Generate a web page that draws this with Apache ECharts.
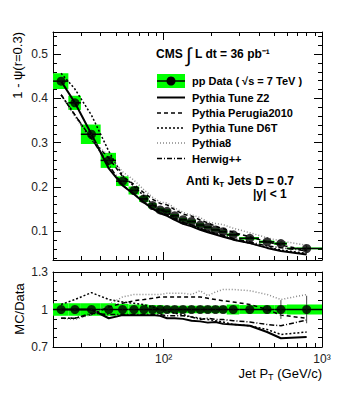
<!DOCTYPE html>
<html>
<head>
<meta charset="utf-8">
<script src="https://cdn.jsdelivr.net/npm/echarts@6/dist/echarts.min.js"></script>
<style>
  html, body { margin: 0; padding: 0; background: #fff; }
  #main { width: 349px; height: 393px; }
</style>
</head>
<body>
<div id="main"></div>
<script>
// jet pT bins (GeV/c)
var binLow  = [20, 25, 30, 40, 50, 60, 70, 80, 90, 100, 110, 125, 140, 160, 180, 200, 225, 250, 300, 400, 500, 600];
var binHigh = [25, 30, 40, 50, 60, 70, 80, 90, 100, 110, 125, 140, 160, 180, 200, 225, 250, 300, 400, 500, 600, 1000];
var ptCenter = [22.5, 27.5, 35, 45, 55, 65, 75, 85, 95, 105, 117.5, 132.5, 150, 170, 190, 212.5, 237.5, 275, 350, 450, 550, 800];

// 1 - psi(r=0.3), pp data
var dataVal = [0.439, 0.390, 0.319, 0.260, 0.213, 0.192, 0.173, 0.158, 0.148, 0.145, 0.135, 0.126, 0.122, 0.114, 0.109, 0.103, 0.099, 0.092, 0.084, 0.076, 0.072, 0.061];
// systematic half-height of green boxes (top panel)
var dataSys = [0.018, 0.016, 0.022, 0.017, 0.011, 0.009, 0.007, 0.006, 0.005, 0.005, 0.004, 0.004, 0.004, 0.004, 0.003, 0.003, 0.003, 0.003, 0.003, 0.003, 0.003, 0.002];
// ratio panel: band half-height and statistical errors
var ratioBand = [0.05, 0.05, 0.05, 0.05, 0.045, 0.04, 0.04, 0.035, 0.035, 0.03, 0.03, 0.03, 0.03, 0.03, 0.03, 0.03, 0.03, 0.04, 0.035, 0.035, 0.035, 0.04];
var ratioStat = [0.005, 0.005, 0.005, 0.005, 0.005, 0.005, 0.005, 0.005, 0.005, 0.005, 0.005, 0.005, 0.005, 0.005, 0.005, 0.005, 0.01, 0.01, 0.015, 0.03, 0.075, 0.11];

// MC / Data
var z2       = [1.0, 1.0, 1.0, 0.93, 0.955, 0.955, 0.955, 0.955, 0.95, 0.93, 0.93, 0.925, 0.91, 0.905, 0.895, 0.9, 0.885, 0.88, 0.87, 0.82, 0.77, 0.78];
var perugia  = [0.93, 0.93, 0.96, 1.02, 1.05, 1.07, 1.08, 1.09, 1.1, 1.1, 1.1, 1.1, 1.1, 1.1, 1.09, 1.08, 1.07, 1.06, 1.04, 1.0, 0.955, 0.93];
var d6t      = [1.04, 1.08, 1.135, 1.08, 1.06, 1.05, 1.04, 1.02, 1.0, 0.99, 0.97, 0.96, 0.94, 0.93, 0.92, 0.91, 0.9, 0.88, 0.87, 0.84, 0.80, 0.82];
var pythia8  = [0.93, 0.92, 0.96, 1.04, 1.1, 1.12, 1.12, 1.12, 1.12, 1.13, 1.13, 1.13, 1.12, 1.15, 1.11, 1.14, 1.16, 1.16, 1.15, 1.12, 1.08, 1.12];
var herwig   = [0.93, 0.93, 0.97, 0.96, 0.96, 0.96, 0.96, 0.96, 0.96, 0.95, 0.95, 0.95, 0.94, 0.92, 0.93, 0.92, 0.92, 0.91, 0.9, 0.88, 0.87, 0.915];

// ticks
var xMajor = [100, 1000];
var xMinor = [30, 40, 50, 60, 70, 80, 90, 200, 300, 400, 500, 600, 700, 800, 900];
var yTopMajor = [0.1, 0.2, 0.3, 0.4, 0.5];
var yTopMinor = [0.04, 0.06, 0.08, 0.12, 0.14, 0.16, 0.18, 0.22, 0.24, 0.26, 0.28, 0.32, 0.34, 0.36, 0.38, 0.42, 0.44, 0.46, 0.48, 0.52, 0.54];
var yBotMajor = [0.7, 1, 1.3];
var yBotMinor = [0.775, 0.85, 0.925, 1.075, 1.15, 1.225];

var GREEN = '#00ff00';
var FONT = 'Liberation Sans, Arial, sans-serif';

var mcSeries = [
  { name: 'Pythia Tune Z2', vals: z2, color: '#000', type: 'solid', width: 2 },
  { name: 'Pythia Perugia2010', vals: perugia, color: '#000', type: [4, 3], width: 1.5 },
  { name: 'Pythia Tune D6T', vals: d6t, color: '#000', type: [2, 2], width: 1.5 },
  { name: 'Pythia8', vals: pythia8, color: '#888', type: [1, 2], width: 1.5 },
  { name: 'Herwig++', vals: herwig, color: '#000', type: [5, 2, 1, 2], width: 1.5 }
];

var chart = echarts.init(document.getElementById('main'), null, { renderer: 'svg' });

var axLine = { color: '#000', width: 1 };

function xAxes(g, labels) {
  var base = { type: 'log', logBase: 10, gridIndex: g, min: 20, max: 1000, splitLine: { show: false } };
  return [
    Object.assign({}, base, {
      position: 'bottom',
      axisLine: { show: true, onZero: false, lineStyle: axLine },
      axisTick: { show: true, inside: true, length: 8, customValues: xMajor, lineStyle: axLine },
      axisLabel: {
        show: labels, customValues: xMajor, fontSize: 12, fontFamily: FONT, color: '#222', margin: 6,
        formatter: function (v) { return v === 100 ? '10²' : '10³'; }
      }
    }),
    Object.assign({}, base, {
      position: 'bottom',
      axisLine: { show: false, onZero: false },
      axisTick: { show: true, inside: true, length: 4, customValues: xMinor, lineStyle: axLine },
      axisLabel: { show: false }
    }),
    Object.assign({}, base, {
      position: 'top',
      axisLine: { show: true, onZero: false, lineStyle: axLine },
      axisTick: { show: true, inside: true, length: 8, customValues: xMajor, lineStyle: axLine },
      axisLabel: { show: false }
    }),
    Object.assign({}, base, {
      position: 'top',
      axisLine: { show: false, onZero: false },
      axisTick: { show: true, inside: true, length: 4, customValues: xMinor, lineStyle: axLine },
      axisLabel: { show: false }
    })
  ];
}

function yAxes(g, min, max, major, minor) {
  var base = { type: 'value', gridIndex: g, min: min, max: max, splitLine: { show: false } };
  return [
    Object.assign({}, base, {
      position: 'left',
      axisLine: { show: true, onZero: false, lineStyle: axLine },
      axisTick: { show: true, inside: true, length: 8, customValues: major, lineStyle: axLine },
      axisLabel: { show: true, customValues: major, fontSize: 12, fontFamily: FONT, color: '#222', margin: 5, formatter: function (v) { return String(v); } }
    }),
    Object.assign({}, base, {
      position: 'left',
      axisLine: { show: false, onZero: false },
      axisTick: { show: true, inside: true, length: 4, customValues: minor, lineStyle: axLine },
      axisLabel: { show: false }
    }),
    Object.assign({}, base, {
      position: 'right',
      axisLine: { show: true, onZero: false, lineStyle: axLine },
      axisTick: { show: true, inside: true, length: 8, customValues: major, lineStyle: axLine },
      axisLabel: { show: false }
    }),
    Object.assign({}, base, {
      position: 'right',
      axisLine: { show: false, onZero: false },
      axisTick: { show: true, inside: true, length: 4, customValues: minor, lineStyle: axLine },
      axisLabel: { show: false }
    })
  ];
}

// green boxes: [lo, hi, y, halfHeight]
function boxRender(params, api) {
  var a = api.coord([api.value(0), api.value(2) + api.value(3)]);
  var b = api.coord([api.value(1), api.value(2) - api.value(3)]);
  return { type: 'rect', shape: { x: a[0], y: a[1], width: b[0] - a[0], height: b[1] - a[1] }, style: { fill: GREEN } };
}
// error bars: [lo, hi, y, x, err]
function errRender(params, api) {
  var y = api.value(2), e = api.value(4);
  var l = api.coord([api.value(0), y]);
  var r = api.coord([api.value(1), y]);
  var t = api.coord([api.value(3), y + e]);
  var d = api.coord([api.value(3), y - e]);
  return {
    type: 'group',
    children: [
      { type: 'line', shape: { x1: l[0], y1: l[1], x2: r[0], y2: r[1] }, style: { stroke: '#000', lineWidth: 1.5 } },
      { type: 'line', shape: { x1: t[0], y1: t[1], x2: d[0], y2: d[1] }, style: { stroke: '#444', lineWidth: 1 } }
    ]
  };
}

var series = [];
// top panel
series.push({
  type: 'custom', xAxisIndex: 0, yAxisIndex: 0, renderItem: boxRender, clip: true, z: 1,
  data: ptCenter.map(function (x, i) { return [binLow[i], binHigh[i], dataVal[i], dataSys[i]]; })
});
mcSeries.forEach(function (m) {
  series.push({
    type: 'line', name: m.name, xAxisIndex: 0, yAxisIndex: 0, symbol: 'none', z: 3,
    lineStyle: { color: m.color, type: m.type, width: m.width },
    data: ptCenter.map(function (x, i) { return [x, dataVal[i] * m.vals[i]]; })
  });
});
series.push({
  type: 'custom', xAxisIndex: 0, yAxisIndex: 0, renderItem: errRender, clip: true, z: 4,
  data: ptCenter.map(function (x, i) { return [binLow[i], binHigh[i], dataVal[i], x, dataVal[i] * ratioStat[i]]; })
});
series.push({
  type: 'scatter', xAxisIndex: 0, yAxisIndex: 0, symbol: 'circle', symbolSize: 9, z: 5,
  itemStyle: { color: '#000' },
  data: ptCenter.map(function (x, i) { return [x, dataVal[i]]; })
});
// ratio panel
series.push({
  type: 'custom', xAxisIndex: 4, yAxisIndex: 4, renderItem: boxRender, clip: true, z: 1,
  data: ptCenter.map(function (x, i) { return [binLow[i], binHigh[i], 1, ratioBand[i]]; })
});
mcSeries.forEach(function (m) {
  series.push({
    type: 'line', name: m.name + ' ratio', xAxisIndex: 4, yAxisIndex: 4, symbol: 'none', z: 3,
    lineStyle: { color: m.color, type: m.type, width: m.width },
    data: ptCenter.map(function (x, i) { return [x, m.vals[i]]; })
  });
});
series.push({
  type: 'custom', xAxisIndex: 4, yAxisIndex: 4, renderItem: errRender, clip: true, z: 4,
  data: ptCenter.map(function (x, i) { return [binLow[i], binHigh[i], 1, x, ratioStat[i]]; })
});
series.push({
  type: 'scatter', xAxisIndex: 4, yAxisIndex: 4, symbol: 'circle', symbolSize: 9, z: 5,
  itemStyle: { color: '#000' },
  data: ptCenter.map(function (x) { return [x, 1]; })
});

// legend block
var legendRows = [81, 97.5, 113, 128, 143, 158.5];
var graphics = [
  { type: 'text', x: 156, y: 54, style: { text: 'CMS', font: 'bold 12px ' + FONT, fill: '#000', verticalAlign: 'middle' } },
  { type: 'text', x: 186, y: 55, style: { text: '∫', font: '20px ' + FONT, fill: '#000', verticalAlign: 'middle' } },
  { type: 'text', x: 195, y: 54, style: { text: 'L dt = 36 pb⁻¹', font: 'bold 12px ' + FONT, fill: '#000', verticalAlign: 'middle' } },
  { type: 'rect', shape: { x: 157, y: legendRows[0] - 7, width: 28, height: 14 }, style: { fill: GREEN } },
  { type: 'line', shape: { x1: 157, y1: legendRows[0], x2: 185, y2: legendRows[0] }, style: { stroke: '#000', lineWidth: 1.5 } },
  { type: 'circle', shape: { cx: 171, cy: legendRows[0], r: 4.5 }, style: { fill: '#000' } },
  { type: 'text', x: 192, y: legendRows[0], style: { text: 'pp Data ( √s = 7 TeV )', font: 'bold 11px ' + FONT, fill: '#000', verticalAlign: 'middle' } }
];
mcSeries.forEach(function (m, k) {
  var y = legendRows[k + 1];
  graphics.push({ type: 'line', shape: { x1: 157, y1: y, x2: 185, y2: y },
    style: { stroke: m.color, lineWidth: m.width, lineDash: m.type === 'solid' ? null : m.type } });
  graphics.push({ type: 'text', x: 192, y: y, style: { text: m.name, font: 'bold 11px ' + FONT, fill: '#000', verticalAlign: 'middle' } });
});
graphics.push(
  { type: 'text', x: 186, y: 181, style: { text: 'Anti k{s|T} Jets D = 0.7', font: 'bold 12px ' + FONT, fill: '#000', verticalAlign: 'middle',
    rich: { s: { font: 'bold 8px ' + FONT, padding: [7, 0, 0, 0] } } } },
  { type: 'text', x: 253, y: 194, style: { text: '|y| < 1', font: 'bold 12px ' + FONT, fill: '#000', verticalAlign: 'middle' } },
  // axis titles
  { type: 'text', x: 17, y: 32, rotation: Math.PI / 2, style: { text: '1 - ψ(r=0.3)', font: '13px ' + FONT, fill: '#000', align: 'right', verticalAlign: 'middle' } },
  { type: 'text', x: 19, y: 309, rotation: Math.PI / 2, style: { text: 'MC/Data', font: '13px ' + FONT, fill: '#000', align: 'center', verticalAlign: 'middle' } },
  { type: 'text', x: 322, y: 373, style: { text: 'Jet P{s|T} (GeV/c)', font: '13px ' + FONT, fill: '#000', align: 'right', verticalAlign: 'middle',
    rich: { s: { font: '9px ' + FONT, padding: [8, 0, 0, 0] } } } }
);

var option = {
  animation: false,
  backgroundColor: '#fff',
  grid: [
    { left: 53, right: 27, top: 32, height: 228 },
    { left: 53, right: 27, top: 272, height: 75 }
  ],
  xAxis: xAxes(0, false).concat(xAxes(1, true)),
  yAxis: yAxes(0, 0.035, 0.55, yTopMajor, yTopMinor).concat(yAxes(1, 0.7, 1.3, yBotMajor, yBotMinor)),
  series: series,
  graphic: { elements: graphics }
};
chart.setOption(option);
</script>
</body>
</html>
